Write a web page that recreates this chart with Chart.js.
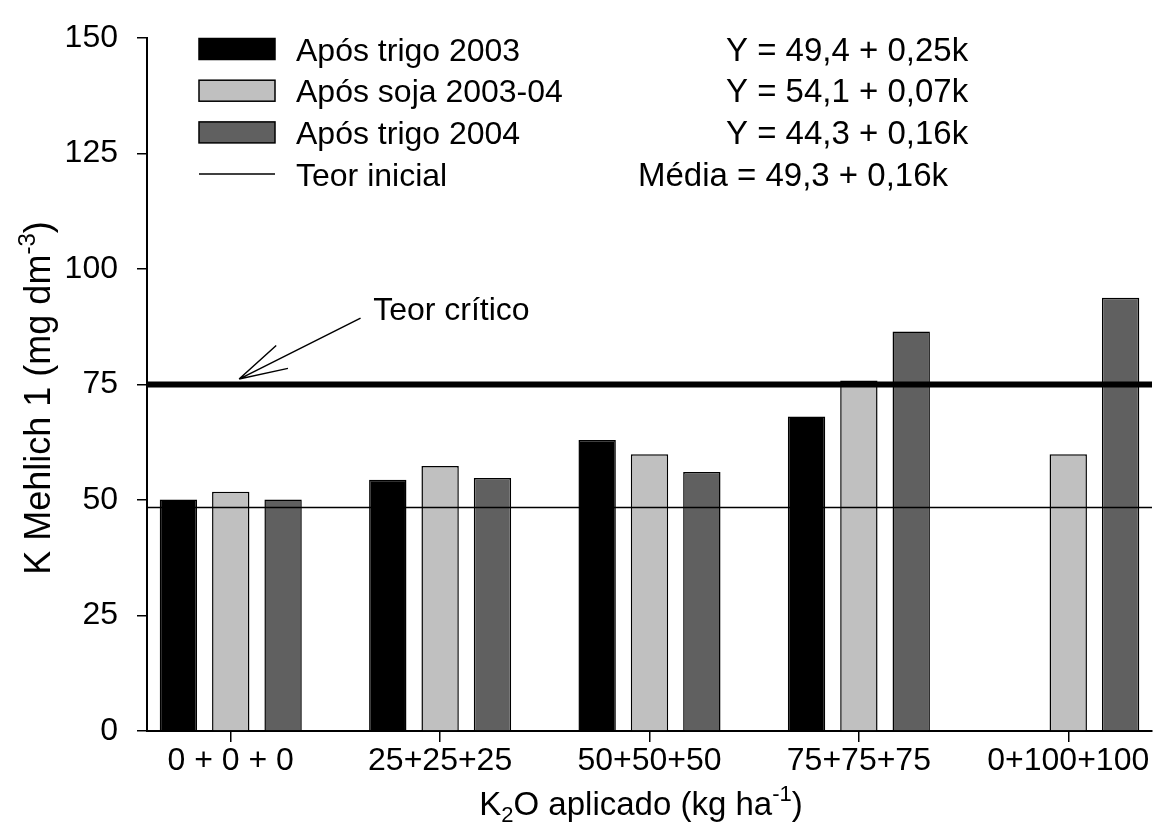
<!DOCTYPE html>
<html>
<head>
<meta charset="utf-8">
<script src="https://cdn.jsdelivr.net/npm/chart.js@4.4.0/dist/chart.umd.min.js"></script>
<style>
html, body { margin: 0; padding: 0; background: #fff; }
</style>
</head>
<body>
<canvas id="chart" width="1171" height="836"></canvas>
<script>
// dados
const doses = ["0 + 0 + 0", "25+25+25", "50+50+50", "75+75+75", "0+100+100"];
const trigo2003 = [50.1, 54.4, 63.0, 68.1, null];
const soja2003_04 = [51.8, 57.4, 59.9, 75.9, 59.9];
const trigo2004 = [50.1, 54.8, 56.1, 86.5, 93.8];
const teorInicial = 48.4;
const teorCritico = 75;
const seriesNames = ["Após trigo 2003", "Após soja 2003-04", "Após trigo 2004", "Teor inicial"];
const equations = ["Y = 49,4 + 0,25k", "Y = 54,1 + 0,07k", "Y = 44,3 + 0,16k", "Média = 49,3 + 0,16k"];
const yTicks = [0, 25, 50, 75, 100, 125, 150];

const xMin = -0.4;
const xMax = doses.length - 0.6;
const FONT = '"Liberation Sans", Arial, Helvetica, sans-serif';
const colors = ["#000000", "#c0c0c0", "#606060"];

function toPoints(arr) {
    return arr.map((v, i) => ({ x: i, y: v }));
}
function hLine(v) {
    return [{ x: xMin, y: v }, { x: xMax, y: v }];
}

// texto com sub/sobrescrito: [texto, tipo]
function drawRich(ctx, parts, x, y, size) {
    const small = Math.round(size * 0.68);
    let total = 0;
    parts.forEach(p => {
        ctx.font = (p[1] ? small : size) + "px " + FONT;
        total += ctx.measureText(p[0]).width;
    });
    let cx = x - total / 2;
    parts.forEach(p => {
        ctx.font = (p[1] ? small : size) + "px " + FONT;
        let dy = p[1] === "sup" ? -size * 0.42 : (p[1] === "sub" ? size * 0.22 : 0);
        ctx.fillText(p[0], cx, y + dy);
        cx += ctx.measureText(p[0]).width;
    });
}

const extras = {
    id: "extras",
    afterDraw(chart) {
        const ctx = chart.ctx;
        const xs = chart.scales.x, ys = chart.scales.y;
        ctx.save();
        ctx.fillStyle = "#000";
        ctx.strokeStyle = "#000";
        ctx.textBaseline = "alphabetic";

        // legenda
        for (let i = 0; i < seriesNames.length; i++) {
            const cy = 49 + i * 41.7;
            if (i < 3) {
                ctx.fillStyle = colors[i];
                ctx.fillRect(199, cy - 10.5, 76, 21);
                ctx.lineWidth = 1.5;
                ctx.strokeStyle = "#000";
                ctx.strokeRect(199, cy - 10.5, 76, 21);
            } else {
                ctx.lineWidth = 1.5;
                ctx.beginPath();
                ctx.moveTo(199, cy);
                ctx.lineTo(275, cy);
                ctx.stroke();
            }
            ctx.fillStyle = "#000";
            ctx.font = "32px " + FONT;
            ctx.textAlign = "left";
            ctx.fillText(seriesNames[i], 296, cy + 11.5);
            ctx.font = "33px " + FONT;
            if (i < 3) {
                ctx.fillText(equations[i], 726, cy + 11.5);
            } else {
                ctx.textAlign = "right";
                ctx.fillText(equations[i], 948, cy + 11.5);
            }
        }

        // seta "Teor critico"
        const tipX = xs.getPixelForValue(0.04), tipY = ys.getPixelForValue(76.2);
        const tailX = xs.getPixelForValue(0.62), tailY = ys.getPixelForValue(89.4);
        const ang = Math.atan2(tailY - tipY, tailX - tipX);
        ctx.lineWidth = 1.5;
        ctx.beginPath();
        ctx.moveTo(tailX, tailY);
        ctx.lineTo(tipX, tipY);
        [-0.27, 0.25].forEach(a => {
            ctx.moveTo(tipX, tipY);
            ctx.lineTo(tipX + 50 * Math.cos(ang + a), tipY + 50 * Math.sin(ang + a));
        });
        ctx.stroke();
        ctx.textAlign = "left";
        ctx.font = "32px " + FONT;
        ctx.fillText("Teor crítico", xs.getPixelForValue(0.68), ys.getPixelForValue(88.9));

        // titulos dos eixos
        ctx.textAlign = "left";
        drawRich(ctx, [["K"], ["2", "sub"], ["O aplicado (kg ha"], ["-1", "sup"], [")"]], 641, 815, 33);
        ctx.translate(50, 398);
        ctx.rotate(-Math.PI / 2);
        drawRich(ctx, [["K Mehlich 1 (mg dm"], ["-3", "sup"], [")"]], 0, 0, 36);
        ctx.restore();
    }
};

new Chart(document.getElementById("chart"), {
    type: "bar",
    data: {
        datasets: [
            { type: "line", data: hLine(teorCritico), borderColor: "#000", borderWidth: 6,
              borderCapStyle: "round", pointRadius: 0, order: 0 },
            { type: "line", data: hLine(teorInicial), borderColor: "#000", borderWidth: 1.5,
              pointRadius: 0, order: 0 },
            { label: seriesNames[0], data: toPoints(trigo2003), backgroundColor: colors[0],
              borderColor: "#000", borderWidth: 1.5, order: 1 },
            { label: seriesNames[1], data: toPoints(soja2003_04), backgroundColor: colors[1],
              borderColor: "#000", borderWidth: 1.5, order: 1 },
            { label: seriesNames[2], data: toPoints(trigo2004), backgroundColor: colors[2],
              borderColor: "#000", borderWidth: 1.5, order: 1 }
        ]
    },
    options: {
        responsive: false,
        animation: false,
        layout: { padding: { top: 30, right: 19, left: 0, bottom: 0 } },
        datasets: { bar: { categoryPercentage: 0.75, barPercentage: 0.714 } },
        plugins: { legend: { display: false }, tooltip: { enabled: false } },
        scales: {
            x: {
                type: "linear",
                offset: false,
                min: xMin,
                max: xMax,
                afterBuildTicks: s => { s.ticks = doses.map((d, i) => ({ value: i })); },
                afterFit: s => { s.height = 105; },
                ticks: {
                    callback: v => doses[v],
                    color: "#000",
                    font: { family: FONT, size: 32 },
                    padding: 0,
                    maxRotation: 0,
                    autoSkip: false
                },
                grid: { offset: false, drawOnChartArea: false, drawTicks: true, tickLength: 11, color: "#000", lineWidth: 1.5 },
                border: { display: true, color: "#000", width: 2 }
            },
            y: {
                min: 0,
                max: 150,
                afterBuildTicks: s => { s.ticks = yTicks.map(v => ({ value: v })); },
                afterFit: s => { s.width = 147; },
                ticks: {
                    color: "#000",
                    font: { family: FONT, size: 32 },
                    padding: 19
                },
                grid: { drawOnChartArea: false, drawTicks: true, tickLength: 10, color: "#000", lineWidth: 1.5 },
                border: { display: true, color: "#000", width: 2 }
            }
        }
    },
    plugins: [extras]
});
</script>
</body>
</html>
